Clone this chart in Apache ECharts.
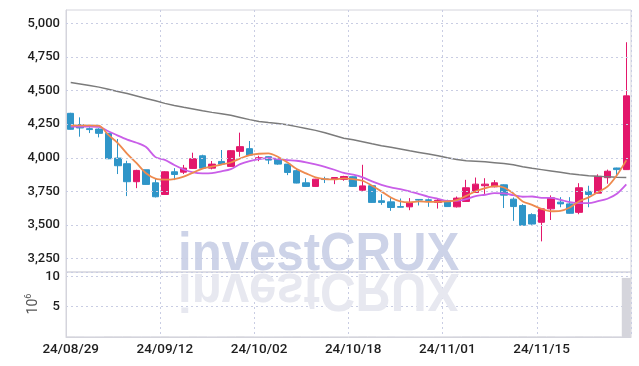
<!DOCTYPE html>
<html>
<head>
<meta charset="utf-8">
<script src="https://cdn.jsdelivr.net/npm/echarts@6/dist/echarts.min.js"></script>
<style>
html,body{margin:0;padding:0;background:#fff;}
#chart{width:639px;height:366px;}
</style>
</head>
<body>
<div id="chart"></div>
<script>
const categories = ['24/08/29','24/08/30','24/09/02','24/09/03','24/09/04','24/09/05','24/09/06','24/09/09','24/09/10','24/09/11',
'24/09/12','24/09/13','24/09/19','24/09/20','24/09/23','24/09/24','24/09/25','24/09/26','24/09/27','24/09/30',
'24/10/02','24/10/04','24/10/07','24/10/08','24/10/10','24/10/11','24/10/14','24/10/15','24/10/16','24/10/17',
'24/10/18','24/10/21','24/10/22','24/10/23','24/10/24','24/10/25','24/10/28','24/10/29','24/10/30','24/10/31',
'24/11/01','24/11/04','24/11/05','24/11/06','24/11/07','24/11/08','24/11/11','24/11/12','24/11/13','24/11/14',
'24/11/15','24/11/18','24/11/19','24/11/20','24/11/21','24/11/22','24/11/25','24/11/26','24/11/27','24/11/28'];

const openPrices = [4331,4247,4217,4214,4182,3998,3956,3822,3911,3814,
3727,3896,3893,3921,4015,3923,3973,3936,4048,4068,
3995,4008,3993,3953,3904,3814,3787,3843,3839,3839,
3859,3759,3792,3680,3672,3637,3635,3690,3687,3668,
3680,3635,3675,3742,3792,3784,3799,3692,3645,3577,
3520,3620,3670,3657,3594,3750,3737,3852,3924,3912];
const closePrices = [4212,4222,4210,4182,3993,3941,3822,3906,3802,3710,
3896,3876,3923,3993,3923,3953,3953,4053,4083,4020,
4000,3983,3953,3891,3812,3787,3841,3838,3853,3861,
3787,3791,3668,3668,3630,3632,3668,3685,3683,3684,
3637,3700,3777,3804,3804,3814,3722,3637,3498,3507,
3620,3702,3657,3587,3777,3727,3862,3900,3912,4461];
const lowPrices = [4210,4157,4184,4152,3990,3879,3715,3774,3800,3705,
3725,3834,3879,3918,3920,3914,3948,3933,4008,4015,
3975,3953,3948,3871,3810,3785,3785,3812,3804,3829,
3785,3750,3665,3650,3605,3630,3610,3645,3635,3622,
3635,3630,3672,3740,3729,3780,3626,3531,3495,3502,
3378,3537,3632,3585,3580,3632,3735,3807,3862,3910];
const highPrices = [4335,4301,4227,4220,4185,4140,3978,3911,3911,3844,
3900,3923,3947,4038,4023,3976,4058,4058,4187,4125,
4015,4010,3995,3955,3923,3848,3843,3859,3855,3866,
3862,3948,3795,3729,3700,3697,3700,3692,3697,3697,
3688,3712,3836,3853,3848,3834,3802,3705,3655,3587,
3622,3720,3707,3707,3811,3792,3877,3912,3926,4860];

const maLong = [4560,4550,4538,4526,4510,4494,4478,4460,4442,4424,
4405,4390,4376,4363,4350,4338,4328,4316,4300,4284,
4270,4262,4256,4246,4232,4218,4204,4186,4166,4146,
4134,4120,4104,4090,4078,4066,4052,4040,4028,4016,
4000,3988,3978,3974,3970,3964,3958,3948,3934,3922,
3912,3902,3892,3882,3874,3867,3862,3858,3855,3853];
const maMid = [4232,4232,4232,4230,4198,4165,4135,4112,4080,4005,
3985,3946,3913,3891,3884,3886,3899,3916,3953,3976,
3990,3998,3990,3983,3978,3966,3951,3933,3911,3887,
3874,3854,3824,3799,3779,3767,3750,3730,3710,3695,
3680,3680,3692,3715,3725,3737,3735,3722,3710,3712,
3702,3702,3687,3670,3662,3662,3677,3695,3732,3802];
const maShort = [4242,4242,4242,4240,4170,4110,4030,3960,3885,3845,
3838,3842,3860,3890,3920,3935,3950,3965,3995,4020,
4030,4033,4008,3966,3916,3884,3854,3841,3839,3847,
3841,3829,3792,3750,3705,3675,3668,3675,3672,3672,
3675,3685,3717,3750,3774,3789,3779,3735,3675,3650,
3620,3602,3605,3630,3677,3705,3745,3785,3870,3981];

const volumes = [0.06,0.05,0.03,0.04,0.08,0.07,0.08,0.05,0.05,0.06,
0.07,0.04,0.04,0.06,0.05,0.03,0.05,0.06,0.08,0.05,
0.03,0.03,0.04,0.05,0.06,0.04,0.04,0.03,0.03,0.03,
0.05,0.07,0.06,0.04,0.05,0.03,0.04,0.03,0.03,0.04,
0.04,0.05,0.07,0.06,0.05,0.04,0.05,0.06,0.08,0.05,
0.08,0.07,0.04,0.05,0.08,0.06,0.07,0.06,0.05,9.73];

const priceTicks = [3250,3500,3750,4000,4250,4500,4750,5000];
const volumeTicks = [5,10];
const xLabelEvery = 10;

const candleData = categories.map((_, i) => [openPrices[i], closePrices[i], lowPrices[i], highPrices[i]]);

const dotted = {color:'#c9cde3', type:[2,3], width:1};
const labelFont = {color:'#1e1e1e', fontSize:13, fontFamily:'Roboto', fontWeight:500};
const catInterval = (idx) => idx % xLabelEvery === 0;
const wmFont = 'bold 54px "Liberation Sans", Arial, sans-serif';

const chart = echarts.init(document.getElementById('chart'), null, {renderer:'canvas'});
chart.setOption({
  animation:false,
  backgroundColor:'#fff',
  grid:[
    {left:66, top:10, width:565, height:262, show:true, borderColor:'#d4d4dc', borderWidth:1},
    {left:66, top:272, width:565, height:65, show:true, borderColor:'#d4d4dc', borderWidth:1}
  ],
  xAxis:[
    {type:'category', gridIndex:0, data:categories, boundaryGap:true,
     axisLine:{show:false}, axisTick:{show:false}, axisLabel:{show:false},
     splitLine:{show:true, interval:catInterval, lineStyle:dotted}},
    {type:'category', gridIndex:1, data:categories, boundaryGap:true,
     axisLine:{show:true, lineStyle:{color:'#d4d4dc'}}, axisTick:{show:false},
     axisLabel:{show:true, interval:catInterval, margin:6, color:'#1e1e1e', fontSize:13.5, fontFamily:'Roboto', fontWeight:500},
     splitLine:{show:true, interval:catInterval, lineStyle:dotted}}
  ],
  yAxis:[
    {type:'value', gridIndex:0, min:3150, max:5100, interval:50,
     axisLine:{show:true, lineStyle:{color:'#d4d4dc'}}, axisTick:{show:false}, splitLine:{show:false},
     axisLabel:Object.assign({margin:6, formatter:(v)=> priceTicks.indexOf(v) >= 0 ? v.toLocaleString('en-US') : ''}, labelFont)},
    {type:'value', gridIndex:1, min:0, max:10.7, interval:5,
     axisLine:{show:true, lineStyle:{color:'#d4d4dc'}}, axisTick:{show:false},
     splitLine:{show:true, lineStyle:dotted},
     axisLabel:Object.assign({margin:6, formatter:(v)=> volumeTicks.indexOf(v) >= 0 ? String(v) : ''}, labelFont)}
  ],
  graphic:[
    {type:'text', x:178, y:272, z:1, silent:true, scaleX:0.91,
     style:{text:'investCRUX', x:0, y:-17, verticalAlign:'middle', font:wmFont, fill:'#cdd3e8'}},
    {type:'text', x:178, y:272, z:1, silent:true, scaleX:0.91, scaleY:-1,
     style:{text:'investCRUX', x:0, y:-17, verticalAlign:'middle', font:wmFont, fill:'#e7e8f0'}},
    {type:'text', x:33, y:304, rotation:Math.PI/2, silent:true,
     style:{text:'{b|10}{s|6}', align:'center', verticalAlign:'middle',
       rich:{b:{fontSize:14, fill:'#555', fontFamily:'Roboto'}, s:{fontSize:9, fill:'#555', fontFamily:'Roboto', verticalAlign:'top', padding:[0,0,8,0]}}}}
  ],
  series:[
    {type:'candlestick', xAxisIndex:0, yAxisIndex:0, data:candleData, barWidth:7,
     itemStyle:{color:'#e3176b', color0:'#2f95c8', borderColor:'#e3176b', borderColor0:'#2f95c8', borderWidth:1}},
    {type:'line', xAxisIndex:0, yAxisIndex:0, data:maLong, symbol:'none', lineStyle:{color:'#7b7b7b', width:1.5}, silent:true,
     markLine:{silent:true, symbol:'none', label:{show:false}, lineStyle:dotted, data:priceTicks.map(v=>({yAxis:v}))}},
    {type:'line', xAxisIndex:0, yAxisIndex:0, data:maMid, symbol:'none', smooth:0.3, lineStyle:{color:'#c95ee8', width:1.8}, silent:true},
    {type:'line', xAxisIndex:0, yAxisIndex:0, data:maShort, symbol:'none', smooth:0.3, lineStyle:{color:'#ee8a4e', width:1.8}, silent:true},
    {type:'bar', xAxisIndex:1, yAxisIndex:1, data:volumes, barWidth:'96%', itemStyle:{color:'#d5d5dc'}, silent:true}
  ]
});
</script>
</body>
</html>
